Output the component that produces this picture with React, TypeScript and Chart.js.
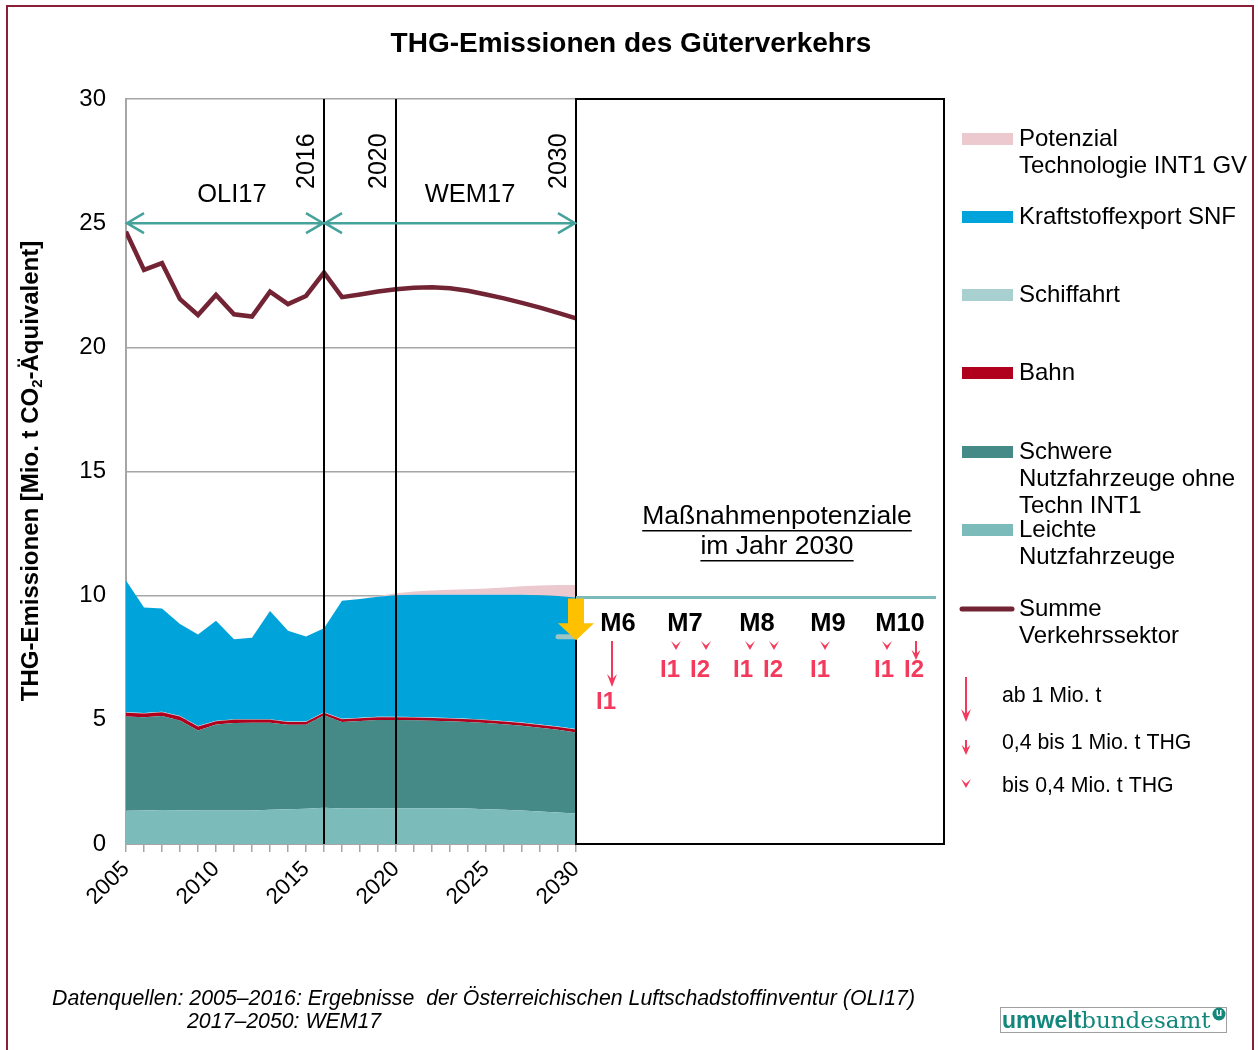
import { useEffect, useRef } from 'react';
import { Chart, registerables } from 'chart.js';

Chart.register(...registerables);

// ---------- data (Mio. t CO2-Äquivalent) ----------
const years = [
  2005, 2006, 2007, 2008, 2009, 2010, 2011, 2012, 2013, 2014, 2015, 2016, 2017,
  2018, 2019, 2020, 2021, 2022, 2023, 2024, 2025, 2026, 2027, 2028, 2029, 2030,
];
const leichteNfz = [
  1.34, 1.35, 1.37, 1.36, 1.35, 1.35, 1.35, 1.35, 1.38, 1.4, 1.42, 1.46, 1.43,
  1.43, 1.44, 1.44, 1.44, 1.44, 1.44, 1.43, 1.4, 1.38, 1.35, 1.31, 1.27, 1.23,
];
const schwereNfz = [
  3.79, 3.75, 3.78, 3.61, 3.22, 3.46, 3.52, 3.53, 3.5, 3.4, 3.38, 3.72, 3.48,
  3.52, 3.55, 3.55, 3.54, 3.52, 3.5, 3.48, 3.47, 3.44, 3.41, 3.37, 3.33, 3.26,
];
const bahn = [
  0.16, 0.16, 0.16, 0.16, 0.16, 0.13, 0.13, 0.12, 0.12, 0.11, 0.11, 0.11, 0.11,
  0.11, 0.11, 0.11, 0.11, 0.11, 0.11, 0.11, 0.11, 0.11, 0.11, 0.11, 0.11, 0.12,
];
const schifffahrt = [
  0.02, 0.02, 0.02, 0.02, 0.02, 0.02, 0.02, 0.02, 0.02, 0.02, 0.02, 0.02, 0.02,
  0.02, 0.02, 0.02, 0.02, 0.02, 0.02, 0.02, 0.02, 0.02, 0.02, 0.02, 0.02, 0.02,
];
const kraftstoffexport = [
  5.3, 4.24, 4.15, 3.71, 3.69, 4.03, 3.22, 3.29, 4.36, 3.66, 3.43, 3.38, 4.76,
  4.79, 4.84, 4.9, 4.93, 4.95, 4.97, 5.0, 5.04, 5.09, 5.15, 5.21, 5.26, 5.3,
];
const potenzialInt1 = [
  0, 0, 0, 0, 0, 0, 0, 0, 0, 0, 0, 0, 0,
  0, 0.03, 0.08, 0.13, 0.17, 0.2, 0.22, 0.25, 0.29, 0.34, 0.39, 0.44, 0.5,
];
const summeVerkehr = [
  24.66, 23.12, 23.39, 21.94, 21.3, 22.11, 21.33, 21.24, 22.24, 21.74, 22.07, 23.01, 22.02,
  22.13, 22.25, 22.34, 22.4, 22.42, 22.38, 22.28, 22.13, 21.97, 21.79, 21.6, 21.39, 21.17,
];
const xTickLabels = [2005, 2010, 2015, 2020, 2025, 2030];
const periodYears = [2016, 2020, 2030];
const massnahmen = ['M6', 'M7', 'M8', 'M9', 'M10'];
const legendAreas = [
  { lines: ['Potenzial', 'Technologie INT1 GV'], color: '#ebc9cf' },
  { lines: ['Kraftstoffexport SNF'], color: '#00a3da' },
  { lines: ['Schiffahrt'], color: '#a9d0d0' },
  { lines: ['Bahn'], color: '#b0001e' },
  { lines: ['Schwere', 'Nutzfahrzeuge ohne', 'Techn INT1'], color: '#468a87' },
  { lines: ['Leichte', 'Nutzfahrzeuge'], color: '#7bbcbb' },
];
const legendSum = ['Summe', 'Verkehrssektor'];
const legendArrows = ['ab 1 Mio. t', '0,4 bis 1 Mio. t THG', 'bis 0,4 Mio. t THG'];

const FONT = '"Liberation Sans", Arial, Helvetica, sans-serif';
const RED = '#f43a5c';
const TEAL = '#46a39b';

const pts = (vals: number[]) => years.map((x, i) => ({ x, y: vals[i] }));

function txt(
  ctx: CanvasRenderingContext2D,
  s: string,
  x: number,
  y: number,
  font: string,
  align: CanvasTextAlign = 'left',
  color = '#000'
) {
  ctx.font = font;
  ctx.fillStyle = color;
  ctx.textAlign = align;
  ctx.textBaseline = 'middle';
  ctx.fillText(s, x, y);
}

function redArrow(ctx: CanvasRenderingContext2D, x: number, y0: number, tip: number, headLen: number, half: number) {
  ctx.strokeStyle = RED;
  ctx.lineWidth = 2;
  ctx.beginPath();
  ctx.moveTo(x, y0);
  ctx.lineTo(x, tip - headLen * 0.5);
  ctx.stroke();
  ctx.fillStyle = RED;
  ctx.beginPath();
  ctx.moveTo(x - half, tip - headLen);
  ctx.lineTo(x, tip);
  ctx.lineTo(x + half, tip - headLen);
  ctx.lineTo(x, tip - headLen * 0.6);
  ctx.closePath();
  ctx.fill();
}

function chevron(ctx: CanvasRenderingContext2D, x: number, y: number) {
  ctx.fillStyle = RED;
  ctx.beginPath();
  ctx.moveTo(x - 5, y - 4);
  ctx.lineTo(x, y + 5);
  ctx.lineTo(x + 5, y - 4);
  ctx.lineTo(x, y + 0.5);
  ctx.closePath();
  ctx.fill();
}

function tealDoubleArrow(ctx: CanvasRenderingContext2D, x0: number, x1: number, y: number) {
  ctx.strokeStyle = TEAL;
  ctx.lineWidth = 2.5;
  ctx.beginPath();
  ctx.moveTo(x0, y);
  ctx.lineTo(x1, y);
  ctx.moveTo(x0 + 18, y - 10);
  ctx.lineTo(x0 + 1, y);
  ctx.lineTo(x0 + 18, y + 10);
  ctx.moveTo(x1 - 18, y - 10);
  ctx.lineTo(x1 - 1, y);
  ctx.lineTo(x1 - 18, y + 10);
  ctx.stroke();
}

const overlay = {
  id: 'overlay',
  afterDatasetsDraw(chart: any) {
    const ctx: CanvasRenderingContext2D = chart.ctx;
    const { top, bottom } = chart.chartArea;
    const xs = chart.scales.x;
    const ys = chart.scales.y;
    ctx.save();
    // period lines
    ctx.strokeStyle = '#000';
    ctx.lineWidth = 2;
    periodYears.forEach((yr) => {
      const px = Math.round(xs.getPixelForValue(yr));
      ctx.beginPath();
      ctx.moveTo(px, top);
      ctx.lineTo(px, bottom);
      ctx.stroke();
    });
    // right box
    const bx = Math.round(xs.getPixelForValue(2030));
    ctx.strokeRect(bx, top, 944 - bx, bottom - top);

    // level line at 2030 total
    const last = years.length - 1;
    const total2030 =
      leichteNfz[last] + schwereNfz[last] + bahn[last] + schifffahrt[last] + kraftstoffexport[last];
    const yl = ys.getPixelForValue(total2030);
    ctx.strokeStyle = '#7bbcbb';
    ctx.lineWidth = 3;
    ctx.beginPath();
    ctx.moveTo(bx, yl);
    ctx.lineTo(936, yl);
    ctx.stroke();

    // small dash
    const yd = ys.getPixelForValue(8.35);
    ctx.strokeStyle = '#9ec4c4';
    ctx.lineWidth = 5;
    ctx.lineCap = 'round';
    ctx.beginPath();
    ctx.moveTo(bx - 18, yd);
    ctx.lineTo(bx - 2, yd);
    ctx.stroke();
    ctx.lineCap = 'butt';

    // yellow arrow
    const tipY = ys.getPixelForValue(8.2);
    ctx.fillStyle = '#ffc000';
    ctx.beginPath();
    ctx.moveTo(bx - 8, yl + 1);
    ctx.lineTo(bx + 8, yl + 1);
    ctx.lineTo(bx + 8, tipY - 17);
    ctx.lineTo(bx + 18, tipY - 17);
    ctx.lineTo(bx, tipY);
    ctx.lineTo(bx - 18, tipY - 17);
    ctx.lineTo(bx - 8, tipY - 17);
    ctx.closePath();
    ctx.fill();

    // teal double arrows at 25
    const y25 = ys.getPixelForValue(25);
    const x05 = xs.getPixelForValue(2005);
    const x16 = xs.getPixelForValue(2016);
    tealDoubleArrow(ctx, x05, x16, y25);
    tealDoubleArrow(ctx, x16, bx, y25);

    txt(ctx, 'OLI17', (x05 + x16) / 2 + 7, 195, `25.5px ${FONT}`, 'center');
    txt(ctx, 'WEM17', 470, 195, `25.5px ${FONT}`, 'center');

    periodYears.forEach((yr) => {
      const px = xs.getPixelForValue(yr);
      ctx.save();
      ctx.translate(px - 17, 189);
      ctx.rotate(-Math.PI / 2);
      txt(ctx, String(yr), 0, 0, `25px ${FONT}`, 'left');
      ctx.restore();
    });
    ctx.restore();
  },
  afterDraw(chart: any) {
    const ctx: CanvasRenderingContext2D = chart.ctx;
    ctx.save();
    // outer frame
    ctx.strokeStyle = '#8a2036';
    ctx.lineWidth = 2;
    ctx.strokeRect(7, 6, 1246, 1060);

    // title
    txt(ctx, 'THG-Emissionen des Güterverkehrs', 631, 44, `bold 28px ${FONT}`, 'center');

    // y axis title with subscript
    ctx.save();
    ctx.translate(31, 471);
    ctx.rotate(-Math.PI / 2);
    const f = `bold 24px ${FONT}`;
    const fs = `bold 15px ${FONT}`;
    const p1 = 'THG-Emissionen [Mio. t CO';
    const p2 = '2';
    const p3 = '-Äquivalent]';
    ctx.font = f;
    const w1 = ctx.measureText(p1).width;
    const w3 = ctx.measureText(p3).width;
    ctx.font = fs;
    const w2 = ctx.measureText(p2).width;
    const start = -(w1 + w2 + w3) / 2;
    txt(ctx, p1, start, 0, f);
    txt(ctx, p2, start + w1, 7, fs);
    txt(ctx, p3, start + w1 + w2, 0, f);
    ctx.restore();

    // Massnahmen box text
    const mf = `26.5px ${FONT}`;
    const lines = ['Maßnahmenpotenziale', 'im Jahr 2030'];
    [517, 547].forEach((yy, i) => {
      txt(ctx, lines[i], 777, yy, mf, 'center');
      ctx.font = mf;
      const w = ctx.measureText(lines[i]).width;
      ctx.fillStyle = '#000';
      ctx.fillRect(777 - w / 2, yy + 13, w, 1.5);
    });

    const mx = [618, 685, 757, 828, 900];
    massnahmen.forEach((m, i) => txt(ctx, m, mx[i], 624, `bold 25.5px ${FONT}`, 'center'));

    // red impact markers
    redArrow(ctx, 612, 641, 687, 13, 5);
    chevron(ctx, 676, 645);
    chevron(ctx, 706, 645);
    chevron(ctx, 750, 645);
    chevron(ctx, 774, 645);
    chevron(ctx, 825, 645);
    chevron(ctx, 887, 645);
    redArrow(ctx, 916, 641, 660, 10, 4.5);
    const lf = `bold 24px ${FONT}`;
    txt(ctx, 'I1', 606, 702, lf, 'center', RED);
    [
      ['I1', 670],
      ['I2', 700],
      ['I1', 743],
      ['I2', 773],
      ['I1', 820],
      ['I1', 884],
      ['I2', 914],
    ].forEach(([s, x]) => txt(ctx, s as string, x as number, 670, lf, 'center', RED));

    // legend
    const lgf = `24px ${FONT}`;
    const swY = [139, 217, 295, 373, 452, 530];
    legendAreas.forEach((e, i) => {
      ctx.fillStyle = e.color;
      ctx.fillRect(962, swY[i] - 6, 51, 12);
      e.lines.forEach((l, j) => txt(ctx, l, 1019, swY[i] + j * 27, lgf));
    });
    ctx.strokeStyle = '#722434';
    ctx.lineWidth = 5;
    ctx.lineCap = 'round';
    ctx.beginPath();
    ctx.moveTo(962, 609);
    ctx.lineTo(1012, 609);
    ctx.stroke();
    ctx.lineCap = 'butt';
    legendSum.forEach((l, j) => txt(ctx, l, 1019, 609 + j * 27, lgf));

    redArrow(ctx, 966, 677, 722, 13, 5);
    redArrow(ctx, 966, 740, 755, 10, 4.5);
    chevron(ctx, 966, 783);
    const af = `21.3px ${FONT}`;
    txt(ctx, legendArrows[0], 1002, 696, af);
    txt(ctx, legendArrows[1], 1002, 743, af);
    txt(ctx, legendArrows[2], 1002, 786, af);

    // footnote
    const ff = `italic 21.3px ${FONT}`;
    txt(ctx, 'Datenquellen: 2005–2016: Ergebnisse  der Österreichischen Luftschadstoffinventur (OLI17)', 52, 999, ff);
    txt(ctx, '2017–2050: WEM17', 187, 1022, ff);

    // logo
    ctx.strokeStyle = '#a0a0a0';
    ctx.lineWidth = 1;
    ctx.strokeRect(1000.5, 1007.5, 226, 25);
    ctx.font = `bold 23px ${FONT}`;
    const wU = ctx.measureText('umwelt').width;
    txt(ctx, 'umwelt', 1002, 1022, `bold 23px ${FONT}`, 'left', '#13877b');
    txt(ctx, 'bundesamt', 1002 + wU, 1022, `23px "DejaVu Serif", serif`, 'left', '#13877b');
    ctx.fillStyle = '#13877b';
    ctx.beginPath();
    ctx.arc(1219, 1014, 6.5, 0, Math.PI * 2);
    ctx.fill();
    txt(ctx, 'u', 1219, 1013, `bold 10px ${FONT}`, 'center', '#fff');
    ctx.restore();
  },
};

export default function App() {
  const ref = useRef<HTMLCanvasElement | null>(null);
  useEffect(() => {
    if (!ref.current) return;
    const common = { borderWidth: 0, pointRadius: 0, tension: 0 };
    const chart = new Chart(ref.current, {
      type: 'line',
      data: {
        datasets: [
          { ...common, label: 'Leichte Nutzfahrzeuge', data: pts(leichteNfz), backgroundColor: '#7bbcbb', fill: 'origin' },
          { ...common, label: 'Schwere Nutzfahrzeuge ohne Techn INT1', data: pts(schwereNfz), backgroundColor: '#468a87', fill: '-1' },
          { ...common, label: 'Bahn', data: pts(bahn), backgroundColor: '#b0001e', fill: '-1' },
          { ...common, label: 'Schiffahrt', data: pts(schifffahrt), backgroundColor: '#a9d0d0', fill: '-1' },
          { ...common, label: 'Kraftstoffexport SNF', data: pts(kraftstoffexport), backgroundColor: '#00a3da', fill: '-1' },
          { ...common, label: 'Potenzial Technologie INT1 GV', data: pts(potenzialInt1), backgroundColor: '#ebc9cf', fill: '-1' },
          {
            label: 'Summe Verkehrssektor',
            data: pts(summeVerkehr),
            borderColor: '#722434',
            borderWidth: 4.5,
            pointRadius: 0,
            tension: 0,
            fill: false,
            stack: 'summe',
            order: -1,
            borderJoinStyle: 'miter',
          } as any,
        ],
      },
      options: {
        animation: false,
        responsive: false,
        devicePixelRatio: 1,
        layout: { padding: { left: 66, top: 99, right: 682, bottom: 146 } },
        plugins: { legend: { display: false }, tooltip: { enabled: false }, title: { display: false } },
        scales: {
          x: {
            type: 'linear',
            min: 2005,
            max: 2030,
            ticks: {
              stepSize: 1,
              autoSkip: false,
              maxRotation: 45,
              minRotation: 45,
              padding: 4,
              color: '#000',
              font: { family: FONT, size: 22.5 },
              callback: (v: any) => (xTickLabels.includes(Number(v)) ? String(v) : ''),
            },
            grid: { drawOnChartArea: false, drawTicks: true, tickLength: 8, color: '#a6a6a6', lineWidth: 1.5 },
            border: { color: '#a6a6a6', width: 2 },
            afterFit: (s: any) => {
              s.height = 60;
            },
          },
          y: {
            stacked: true,
            min: 0,
            max: 30,
            ticks: { stepSize: 5, padding: 20, color: '#000', font: { family: FONT, size: 24 } },
            grid: { color: '#a6a6a6', lineWidth: 1.5, drawTicks: false },
            border: { color: '#a6a6a6', width: 2 },
            afterFit: (s: any) => {
              s.width = 60;
            },
          },
        },
      } as any,
      plugins: [overlay],
    });
    return () => chart.destroy();
  }, []);
  return (
    <div style={{ position: 'absolute', left: 0, top: 0, width: 1258, height: 1050, background: '#fff' }}>
      <canvas ref={ref} width={1258} height={1050} style={{ display: 'block' }} />
    </div>
  );
}
